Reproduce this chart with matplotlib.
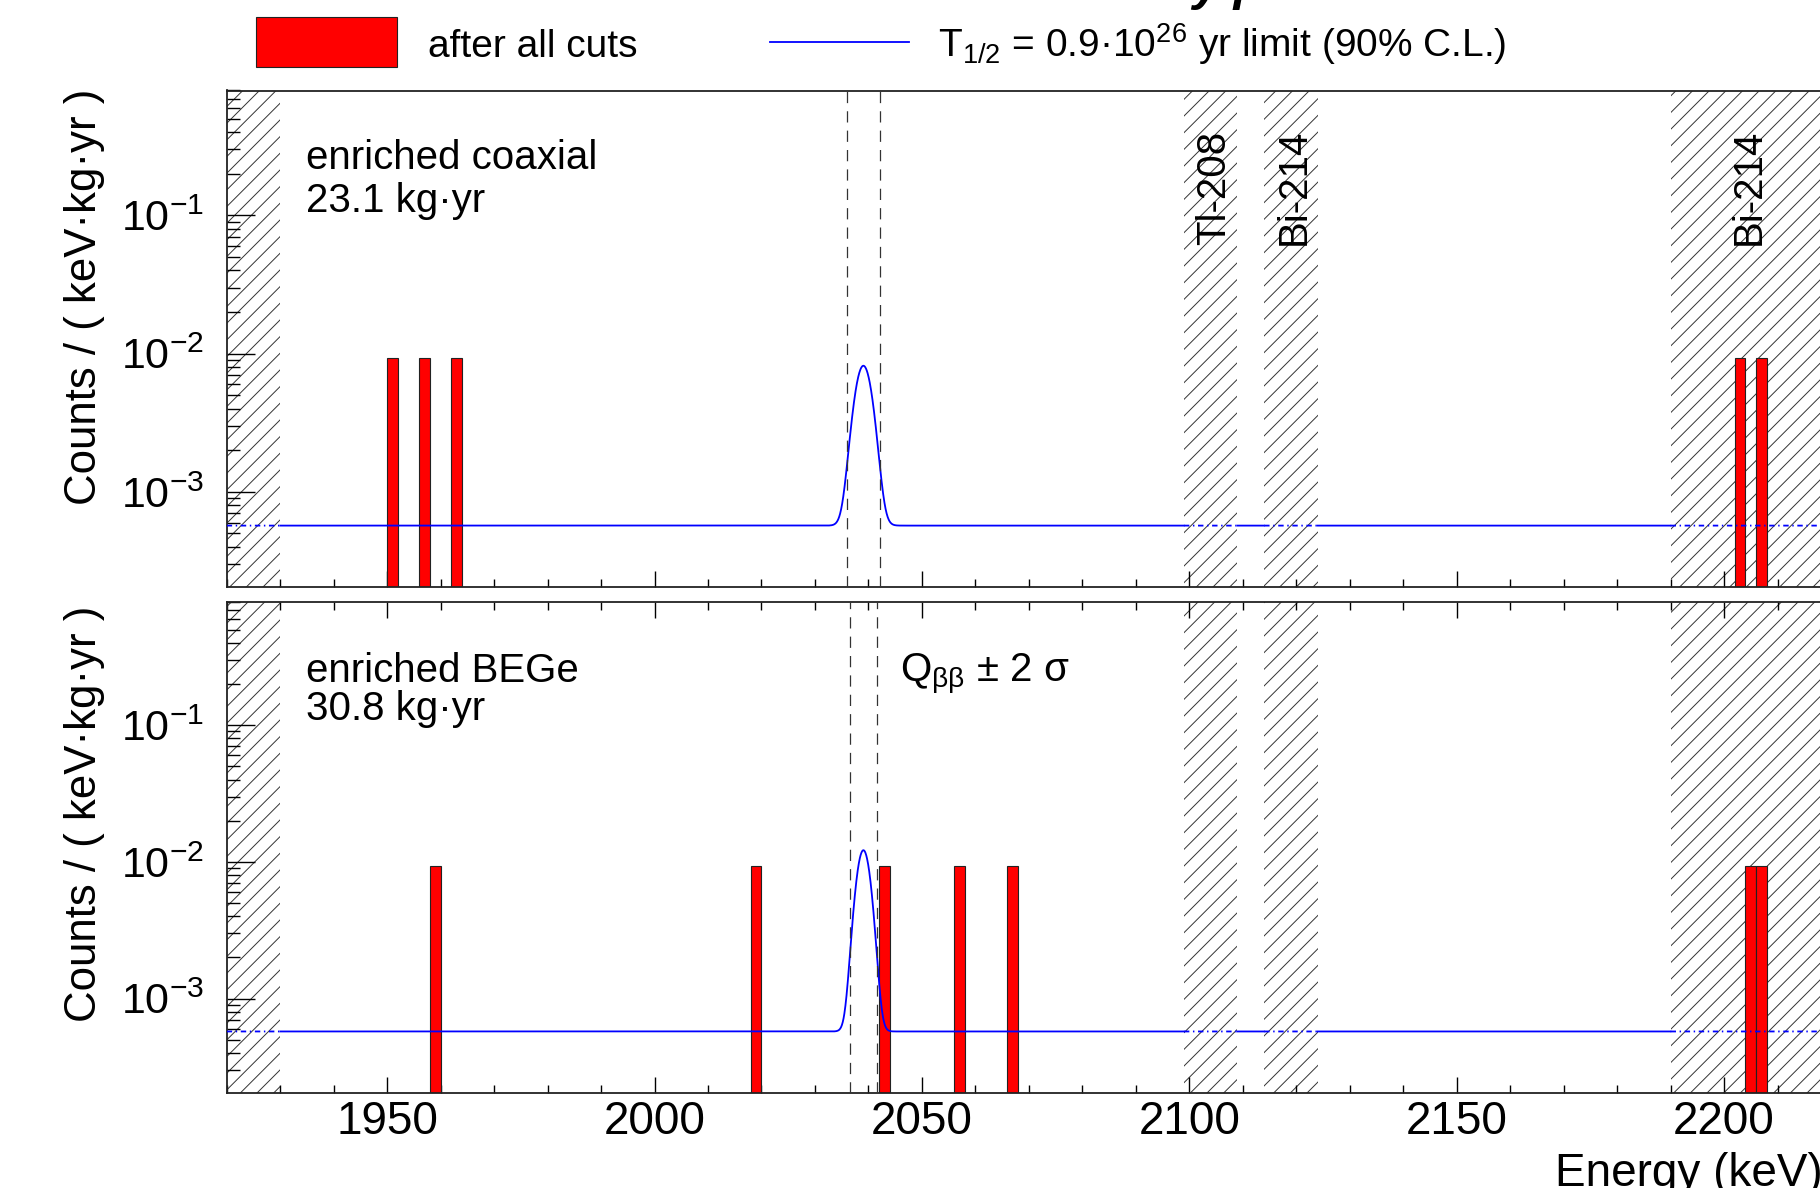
import numpy as np
import matplotlib
matplotlib.use('Agg')
import matplotlib.pyplot as plt
import matplotlib.transforms as mtransforms
from matplotlib.patches import Rectangle
from matplotlib.lines import Line2D
from matplotlib.ticker import MultipleLocator, LogLocator

plt.rcParams['font.family'] = ['Liberation Sans', 'DejaVu Sans']
plt.rcParams['mathtext.fontset'] = 'custom'
plt.rcParams['mathtext.rm'] = 'Liberation Sans'
plt.rcParams['mathtext.it'] = 'Liberation Sans:italic'
plt.rcParams['mathtext.bf'] = 'Liberation Sans:bold'
plt.rcParams['hatch.linewidth'] = 0.7
plt.rcParams['hatch.color'] = '#333333'

# energy window and excluded (hatched) regions, keV
e_min, e_max = 1920, 2220
excluded = [(1920, 1930), (2099, 2109), (2114, 2124), (2190, 2220)]
line_labels = ['Tl-208', 'Bi-214', 'Bi-214']
line_energies = [2104, 2119, 2204]

# events after all cuts: 2 keV bins (left edges), counts / (keV kg yr)
bin_width = 2
coax_bins = [1950, 1956, 1962, 2202, 2206]
coax_rate = [0.0093, 0.0093, 0.0093, 0.0093, 0.0093]
bege_bins = [1958, 2018, 2042, 2056, 2066, 2204, 2206]
bege_rate = [0.0093, 0.0093, 0.0093, 0.0093, 0.0093, 0.0093, 0.0093]

# limit curve: flat background + gaussian at Q_bb
q_bb = 2039.06
coax_bkg, coax_peak, coax_sigma = 5.7e-4, 7.6e-3, 1.52
bege_bkg, bege_peak, bege_sigma = 5.75e-4, 1.16e-2, 1.25

panels = [
    dict(name='enriched coaxial', expo='23.1 kg·yr', bins=coax_bins, rate=coax_rate,
         bkg=coax_bkg, peak=coax_peak, sigma=coax_sigma),
    dict(name='enriched BEGe', expo='30.8 kg·yr', bins=bege_bins, rate=bege_rate,
         bkg=bege_bkg, peak=bege_peak, sigma=bege_sigma),
]

W, H = 1820, 1188
fig = plt.figure(figsize=(W / 100, H / 100), dpi=100)

left = 226.7 / W
width = (1831 - 226.7) / W
ax_top = fig.add_axes([left, 1 - 587 / H, width, 496.5 / H])
ax_bot = fig.add_axes([left, 1 - 1092.7 / H, width, 491 / H])
axes = [ax_top, ax_bot]

energy = np.linspace(e_min, e_max, 6001)
inside = np.zeros_like(energy, dtype=bool)
for a, b in excluded:
    inside |= (energy >= a) & (energy <= b)

for i, (ax, p) in enumerate(zip(axes, panels)):
    ax.set_yscale('log')
    ax.set_xlim(e_min, e_max)
    ax.set_ylim(2.05e-4, 0.8)

    for a, b in excluded:
        ax.axvspan(a, b, facecolor='none', edgecolor='#333333', hatch='//', lw=0, zorder=1)

    ax.bar(p['bins'], p['rate'], width=bin_width, bottom=1e-6, align='edge',
           color='#ff0000', edgecolor='#222222', lw=0.8, zorder=2)

    curve = p['bkg'] + p['peak'] * np.exp(-(energy - q_bb) ** 2 / (2 * p['sigma'] ** 2))
    ax.plot(energy, np.where(~inside, curve, np.nan), color='#0000ff', lw=1.3, zorder=3)
    ax.plot(energy, np.where(inside, curve, np.nan), color='#0000ff', lw=1.3,
            dashes=(3, 2, 0.8, 2), zorder=3)

    for e in (q_bb - 2 * p['sigma'], q_bb + 2 * p['sigma']):
        ax.axvline(e, color='#333333', lw=0.9, dashes=(9, 6.5), zorder=3)

    ax.xaxis.set_major_locator(MultipleLocator(50))
    ax.xaxis.set_minor_locator(MultipleLocator(10))
    ax.yaxis.set_major_locator(LogLocator(base=10))
    ax.yaxis.set_minor_locator(LogLocator(base=10, subs=np.arange(2, 10)))
    ax.tick_params(axis='x', which='major', direction='in', length=11.5, width=1.0,
                   labelsize=33, pad=5, top=(i == 1))
    ax.tick_params(axis='x', which='minor', direction='in', length=5.8, width=1.0, top=(i == 1))
    ax.tick_params(axis='y', which='major', direction='in', length=20, width=1.0,
                   labelsize=31, pad=16)
    ax.tick_params(axis='y', which='minor', direction='in', length=9.4, width=1.0)
    for s in ax.spines.values():
        s.set_linewidth(1.3)
        s.set_color('#222222')

    y1 = [0.8419, 0.8371][i]
    y2 = [0.7559, 0.7582][i]
    ax.text(0.0494, y1, p['name'], transform=ax.transAxes, fontsize=29, va='baseline')
    ax.text(0.0494, y2, p['expo'], transform=ax.transAxes, fontsize=29, va='baseline')

ax_top.tick_params(axis='x', labelbottom=False)

shift = mtransforms.ScaledTranslation(3 / 100, 0, fig.dpi_scale_trans)
for lab, e in zip(line_labels, line_energies):
    ax_top.text(e, 0.6888, lab, transform=ax_top.get_xaxis_transform() + shift,
                rotation=90, ha='center', va='bottom', fontsize=29)

ax_bot.text(2045.9, 0.8371, r'Q$_{\mathrm{\beta\beta}}$ ± 2 σ',
            transform=ax_bot.get_xaxis_transform(), fontsize=29, va='baseline')

for yc in (297.3, 814):
    fig.text(84.5 / W, 1 - yc / H, 'Counts / ( keV·kg·yr )', rotation=90,
             ha='center', va='center', fontsize=31.5)

fig.text(1555 / W, 1 - 1186 / H, 'Energy (keV)', ha='left', va='baseline', fontsize=33)

# legend
fig.add_artist(Rectangle((256 / W, 1 - 66.7 / H), 141 / W, 50 / H, transform=fig.transFigure,
                         facecolor='#ff0000', edgecolor='#222222', lw=0.8))
fig.text(428 / W, 1 - 57 / H, 'after all cuts', fontsize=28, va='baseline')
fig.add_artist(Line2D([770 / W, 909 / W], [1 - 41.7 / H, 1 - 41.7 / H],
                      transform=fig.transFigure, color='#0000ff', lw=1.3))
fig.text(938 / W, 1 - 57 / H, r'T$_{1/2}$ = 0.9·10$^{26}$ yr limit (90% C.L.)',
         fontsize=28, va='baseline')

# title cut off at the top edge
fig.text(1192 / W, 1.0, 'y p', fontsize=36, weight='bold', style='italic', va='baseline')

fig.savefig('out.png', dpi=100)
